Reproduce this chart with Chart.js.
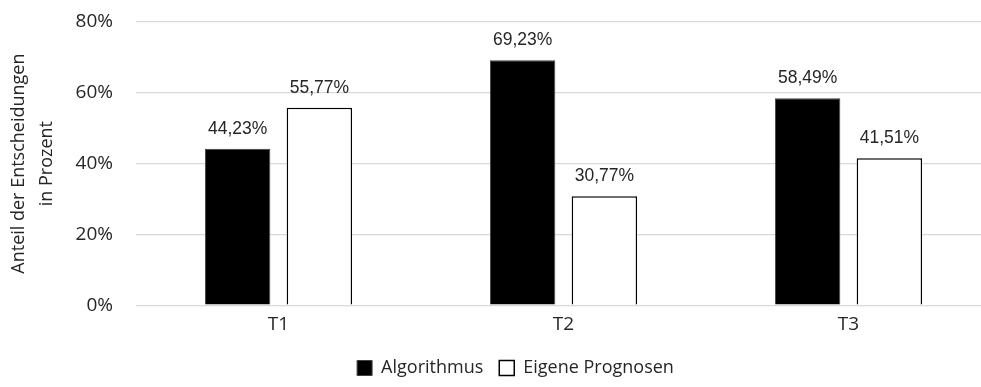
<!DOCTYPE html>
<html>
<head>
<meta charset="utf-8">
<script src="https://cdn.jsdelivr.net/npm/chart.js@4"></script>
<style>
  html, body { margin: 0; padding: 0; background: #fff; overflow: hidden; }
  #wrap { width: 981px; height: 387px; overflow: hidden; }
</style>
</head>
<body>
<div id="wrap"><canvas id="chart" width="1000" height="387"></canvas></div>
<script>
const categories = ["T1", "T2", "T3"];
const algorithmus = [44.23, 69.23, 58.49];
const eigenePrognosen = [55.77, 30.77, 41.51];
const yTicks = [0, 20, 40, 60, 80];

const ctx = document.getElementById("chart").getContext("2d");

// Werte über den Balken
const valueLabels = {
  id: "valueLabels",
  afterDatasetsDraw(chart) {
    const c = chart.ctx;
    c.save();
    c.font = "17.5px 'Liberation Sans', Arial, sans-serif";
    c.fillStyle = "#262626";
    c.textAlign = "center";
    c.textBaseline = "alphabetic";
    chart.data.datasets.forEach((ds, i) => {
      chart.getDatasetMeta(i).data.forEach((bar, j) => {
        const txt = ds.data[j].toFixed(2).replace(".", ",") + "%";
        c.fillText(txt, bar.x, bar.y - 15);
      });
    });
    c.restore();
  }
};

// Legende etwas nach rechts schieben (Original ist rechts beschnitten)
const legendShift = {
  id: "legendShift",
  afterLayout(chart) {
    chart.legend.left += 20;
    chart.legend.right += 20;
  }
};

new Chart(ctx, {
  type: "bar",
  data: {
    labels: categories,
    datasets: [
      {
        label: "Algorithmus",
        data: algorithmus,
        backgroundColor: "#000000",
        borderColor: "#404040",
        borderWidth: 1,
        categoryPercentage: 0.574,
        barPercentage: 0.8
      },
      {
        label: "Eigene Prognosen",
        data: eigenePrognosen,
        backgroundColor: "#ffffff",
        borderColor: "#000000",
        borderWidth: 1.5,
        categoryPercentage: 0.574,
        barPercentage: 0.8
      }
    ]
  },
  options: {
    responsive: false,
    devicePixelRatio: 1,
    animation: false,
    layout: { padding: { top: 22, right: 9, left: 0, bottom: 0 } },
    plugins: {
      tooltip: { enabled: false },
      legend: {
        position: "bottom",
        labels: {
          boxWidth: 15,
          boxHeight: 15,
          padding: 16,
          color: "#262626",
          font: { family: "'Open Sans', sans-serif", size: 18 }
        }
      }
    },
    scales: {
      x: {
        grid: { display: false },
        border: { display: false },
        afterFit: axis => { axis.height += 7; },
        ticks: {
          color: "#262626",
          padding: 0,
          font: { family: "'Open Sans', sans-serif", size: 19 }
        }
      },
      y: {
        min: 0,
        max: 80,
        afterBuildTicks: axis => { axis.ticks = yTicks.map(v => ({ value: v })); },
        afterFit: axis => {
          axis.width = 136;
          axis.paddingTop = 0;
          axis.paddingBottom = 0;
        },
        grid: { color: "#d9d9d9", lineWidth: 1.3, drawTicks: false },
        border: { display: false },
        ticks: {
          color: "#262626",
          padding: 23,
          callback: v => v + "%",
          font: { family: "'Open Sans', sans-serif", size: 19 }
        },
        title: {
          display: true,
          text: ["Anteil der Entscheidungen", "in Prozent"],
          color: "#262626",
          padding: { top: 5, bottom: 0 },
          font: { family: "'Open Sans', sans-serif", size: 18, lineHeight: 1.556 }
        }
      }
    }
  },
  plugins: [valueLabels, legendShift]
});
</script>
</body>
</html>
